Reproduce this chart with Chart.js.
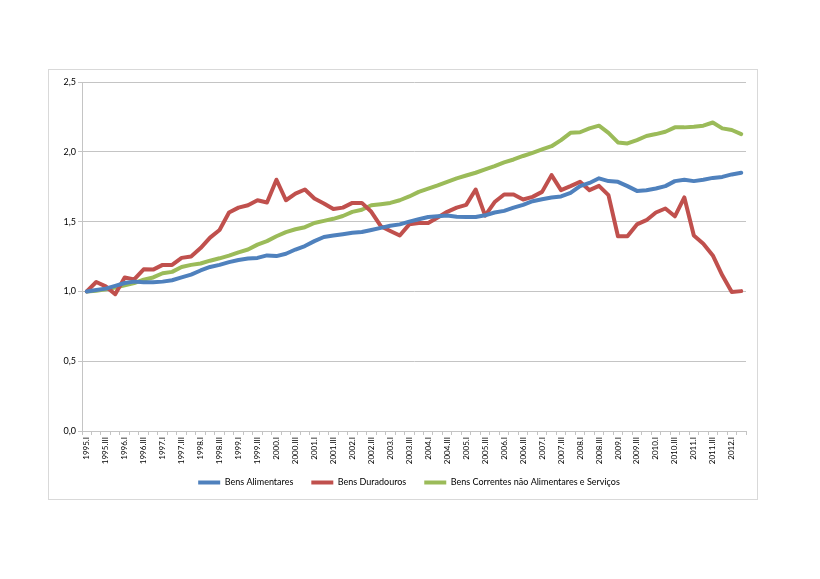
<!DOCTYPE html>
<html>
<head>
<meta charset="utf-8">
<script src="https://cdn.jsdelivr.net/npm/chart.js@4"></script>
<style>
  html, body { margin: 0; padding: 0; background: #fff; }
  #wrap { width: 820px; height: 579px; }
</style>
</head>
<body>
<div id="wrap"><canvas id="chart" width="820" height="579"></canvas></div>
<script>
const years = [1995, 1996, 1997, 1998, 1999, 2000, 2001, 2002, 2003, 2004, 2005, 2006, 2007, 2008, 2009, 2010, 2011, 2012];
const quarterNames = ["I", "II", "III", "IV"];
const seriesNames = ["Bens Alimentares", "Bens Duradouros", "Bens Correntes não Alimentares e Serviços"];
const yTicks = [0, 0.5, 1, 1.5, 2, 2.5];

const alimentares = [1.00, 1.01, 1.02, 1.04, 1.06, 1.07, 1.065, 1.065, 1.07, 1.08,
  1.10, 1.12, 1.15, 1.175, 1.19, 1.21, 1.225, 1.235, 1.24, 1.258,
  1.253, 1.27, 1.30, 1.325, 1.36, 1.39, 1.40, 1.41, 1.42, 1.425,
  1.44, 1.455, 1.47, 1.48, 1.50, 1.517, 1.533, 1.538, 1.543, 1.535,
  1.533, 1.533, 1.545, 1.565, 1.577, 1.60, 1.62, 1.646, 1.66, 1.673,
  1.68, 1.706, 1.754, 1.777, 1.81, 1.79, 1.785, 1.754, 1.72, 1.725,
  1.737, 1.754, 1.79, 1.80, 1.79, 1.80, 1.813, 1.82, 1.838, 1.85];

const duradouros = [1.00, 1.067, 1.036, 0.98, 1.10, 1.086, 1.158, 1.156, 1.19, 1.19,
  1.24, 1.25, 1.31, 1.385, 1.44, 1.565, 1.60, 1.617, 1.653, 1.637,
  1.80, 1.653, 1.70, 1.73, 1.665, 1.63, 1.59, 1.60, 1.634, 1.634,
  1.57, 1.467, 1.433, 1.40, 1.48, 1.49, 1.49, 1.53, 1.57, 1.60,
  1.62, 1.73, 1.543, 1.64, 1.694, 1.694, 1.658, 1.677, 1.713, 1.833,
  1.725, 1.754, 1.785, 1.725, 1.756, 1.69, 1.395, 1.395, 1.48, 1.51,
  1.565, 1.594, 1.538, 1.673, 1.40, 1.342, 1.258, 1.115, 0.995, 1.002];

const correntes = [1.00, 1.005, 1.015, 1.027, 1.043, 1.06, 1.084, 1.10, 1.13, 1.14,
  1.175, 1.19, 1.20, 1.22, 1.237, 1.256, 1.28, 1.30, 1.335, 1.36,
  1.395, 1.425, 1.445, 1.46, 1.49, 1.505, 1.52, 1.54, 1.57, 1.585,
  1.617, 1.625, 1.634, 1.653, 1.68, 1.713, 1.737, 1.76, 1.785, 1.81,
  1.83, 1.85, 1.874, 1.897, 1.924, 1.945, 1.97, 1.993, 2.017, 2.04,
  2.084, 2.136, 2.14, 2.168, 2.187, 2.136, 2.067, 2.06, 2.084, 2.113,
  2.127, 2.144, 2.175, 2.175, 2.18, 2.187, 2.21, 2.168, 2.156, 2.127];

// quarter labels, 1995.I .. 2012.II
let labels = [];
years.forEach(y => quarterNames.forEach(q => labels.push(y + "." + q)));
labels = labels.slice(0, alimentares.length);

const gridGray = "#c4c4c4";
const fontFamily = "Lato, 'Liberation Sans', sans-serif";

function makeSet(name, data, color) {
  return {
    label: name,
    data: data,
    borderColor: color,
    backgroundColor: color,
    borderWidth: 4,
    pointRadius: 0,
    pointHoverRadius: 0,
    tension: 0,
    borderJoinStyle: "round",
    borderCapStyle: "round",
    fill: false
  };
}

// white page + light frame around the chart object
const framePlugin = {
  id: "frame",
  beforeDraw(chart) {
    const ctx = chart.ctx;
    ctx.save();
    ctx.fillStyle = "#fff";
    ctx.fillRect(0, 0, chart.width, chart.height);
    ctx.strokeStyle = "#d9d9d9";
    ctx.lineWidth = 1;
    ctx.strokeRect(48.5, 69.5, 709, 430);
    ctx.restore();
  }
};

// nudge the legend up under the axis labels and centre it on the frame
const legendShift = {
  id: "legendShift",
  afterLayout(chart) {
    const lg = chart.legend;
    lg.top -= 9; lg.bottom -= 9;
    lg.left += 16; lg.right += 16;
  }
};

new Chart(document.getElementById("chart"), {
  type: "line",
  data: {
    labels: labels,
    datasets: [
      makeSet(seriesNames[0], alimentares, "#4F81BD"),
      makeSet(seriesNames[1], duradouros, "#C0504D"),
      makeSet(seriesNames[2], correntes, "#9BBB59")
    ]
  },
  options: {
    responsive: false,
    animation: false,
    layout: {
      padding: { left: 40, right: 74, top: 82, bottom: 73 }
    },
    plugins: {
      legend: {
        position: "bottom",
        labels: {
          usePointStyle: true,
          pointStyle: "line",
          pointStyleWidth: 22,
          padding: 18,
          color: "#000",
          font: { family: fontFamily, size: 9 }
        }
      },
      tooltip: { enabled: false }
    },
    scales: {
      x: {
        type: "category",
        offset: true,
        afterFit: s => { s.height = 38; },
        grid: {
          display: true,
          offset: true,
          drawOnChartArea: false,
          drawTicks: true,
          tickLength: 4,
          color: gridGray
        },
        border: { color: gridGray },
        ticks: {
          autoSkip: false,
          maxRotation: 90,
          minRotation: 90,
          padding: 2,
          color: "#000",
          font: { family: fontFamily, size: 8 },
          callback: function(v, i) { return i % 2 === 0 ? this.getLabelForValue(v) : ""; }
        }
      },
      y: {
        min: 0,
        max: 2.5,
        afterFit: s => { s.width = 42; },
        afterBuildTicks: s => { s.ticks = yTicks.map(v => ({ value: v })); },
        grid: {
          color: gridGray,
          tickLength: 4
        },
        border: { color: gridGray },
        ticks: {
          padding: 2,
          color: "#000",
          font: { family: fontFamily, size: 9 },
          callback: v => v.toFixed(1).replace(".", ",")
        }
      }
    }
  },
  plugins: [framePlugin, legendShift]
});
</script>
</body>
</html>
